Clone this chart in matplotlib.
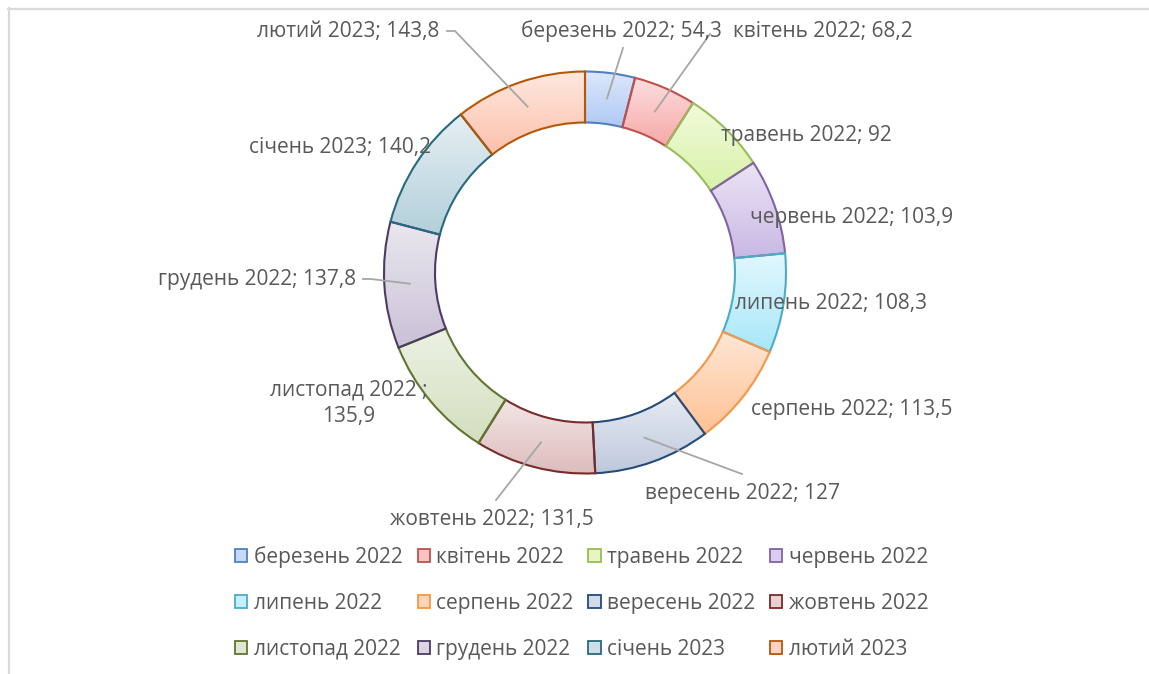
import matplotlib
matplotlib.use("Agg")
import matplotlib.pyplot as plt
import numpy as np
from matplotlib.colors import to_rgb
from matplotlib.lines import Line2D
from matplotlib.patches import Patch

plt.rcParams["font.family"] = ["Open Sans", "DejaVu Sans"]

months = [
    "березень 2022", "квітень 2022", "травень 2022", "червень 2022",
    "липень 2022", "серпень 2022", "вересень 2022", "жовтень 2022",
    "листопад 2022", "грудень 2022", "січень 2023", "лютий 2023",
]
values = [54.3, 68.2, 92, 103.9, 108.3, 113.5, 127, 131.5, 135.9, 137.8, 140.2, 143.8]

edge_colors = [
    "#4F81BD", "#C0504D", "#9BBB59", "#8064A2", "#4BACC6", "#F79646",
    "#254B7A", "#772C2A", "#5F7530", "#4D3B62", "#276A7C", "#B65708",
]
fill_top = [
    "#DDE8FC", "#FDDEDE", "#F2FADB", "#ECE4F5", "#E2F7FD", "#FFE7D6",
    "#E7EBF3", "#F3E6E6", "#ECF1E3", "#EAE7EF", "#E6EFF3", "#FFE8E0",
]
fill_bottom = [
    "#AFC9F3", "#F5A9A8", "#D8F2A9", "#C9B8E4", "#A7E7F8", "#FEC295",
    "#BFC9DC", "#DDBCBC", "#D3DFBF", "#C9C1D6", "#B2CFD9", "#FBC0AA",
]

W, H = 1149, 674
TEXT = "#595959"
FS = 15

# label placement (pixel coords from top-left): x, y, horizontal alignment
label_pos = [
    (521, 31, "left"), (733, 31, "left"), (721, 136, "left"), (750, 218, "left"),
    (735, 303, "left"), (751, 410, "left"), (645, 493, "left"), (390, 520, "left"),
    (349, 403, "center"), (356, 280, "right"), (431, 148, "right"), (439, 31, "right"),
]
# leader line start points (pixel coords), None when label sits on the ring
leader_start = [
    [(623, 48)], [(710, 34)], None, None, None, None,
    [(742, 474)], [(496, 500)], None, [(363, 279), (371, 279)], None,
    [(447, 31), (455, 31)],
]

fig = plt.figure(figsize=(W / 100, H / 100), dpi=100)
ax = fig.add_axes([0, 0, 1, 1])

R, ring = 201, 51
center = (585, H - 272.5)
wedges, _ = ax.pie(
    values,
    radius=R,
    center=center,
    startangle=90,
    counterclock=False,
    colors=["none"] * len(values),
    wedgeprops=dict(width=ring, linewidth=1.5),
)

t = np.linspace(0, 1, 200)[:, None, None]
for w, ec, top, bot in zip(wedges, edge_colors, fill_top, fill_bottom):
    w.set_edgecolor(ec)
    w.set_zorder(3)
    bb = w.get_path().get_extents()
    grad = np.array(to_rgb(top)) * (1 - t) + np.array(to_rgb(bot)) * t
    im = ax.imshow(
        grad, extent=(bb.x0, bb.x1, bb.y0, bb.y1), origin="upper",
        aspect="auto", zorder=2, interpolation="bilinear",
    )
    im.set_clip_path(w)

for i, (w, v) in enumerate(zip(wedges, values)):
    x, y, ha = label_pos[i]
    val = f"{v:g}".replace(".", ",")
    if i == 8:
        txt = f"{months[i]} ;\n{val}"
    else:
        txt = f"{months[i]}; {val}"
    ax.text(x, H - y, txt, ha=ha, va="center", fontsize=FS, color=TEXT,
            linespacing=1.35, zorder=5)
    if leader_start[i]:
        mid = np.deg2rad((w.theta1 + w.theta2) / 2)
        rm = R - ring / 2
        ax_ = center[0] + rm * np.cos(mid)
        ay_ = center[1] + rm * np.sin(mid)
        xs = [p[0] for p in leader_start[i]] + [ax_]
        ys = [H - p[1] for p in leader_start[i]] + [ay_]
        ax.plot(xs, ys, color="#A6A6A6", lw=1.3, zorder=4)

ax.set_xlim(0, W)
ax.set_ylim(0, H)
ax.set_aspect("auto")
ax.axis("off")

handles = [
    Patch(facecolor=np.array(to_rgb(top)) * 0.5 + np.array(to_rgb(bot)) * 0.5,
          edgecolor=ec, linewidth=1.3, label=m)
    for m, ec, top, bot in zip(months, edge_colors, fill_top, fill_bottom)
]
order = [0, 4, 8, 1, 5, 9, 2, 6, 10, 3, 7, 11]
fig.legend(
    [handles[k] for k in order], [months[k] for k in order],
    ncol=4, loc="center", bbox_to_anchor=(582 / W, 1 - 603 / H),
    frameon=False, fontsize=FS, labelcolor=TEXT,
    handlelength=0.58, handleheight=0.58, handletextpad=0.33,
    columnspacing=0.7, labelspacing=1.2,
)

# chart area border
fig.add_artist(Line2D([8.5 / W, 8.5 / W], [0, 1 - 8 / H], color="#D9D9D9", lw=1.6,
                      transform=fig.transFigure))
fig.add_artist(Line2D([8 / W, 1], [1 - 9 / H, 1 - 9 / H], color="#D9D9D9", lw=1.6,
                      transform=fig.transFigure))

fig.savefig("out.png", dpi=100, facecolor="white")
